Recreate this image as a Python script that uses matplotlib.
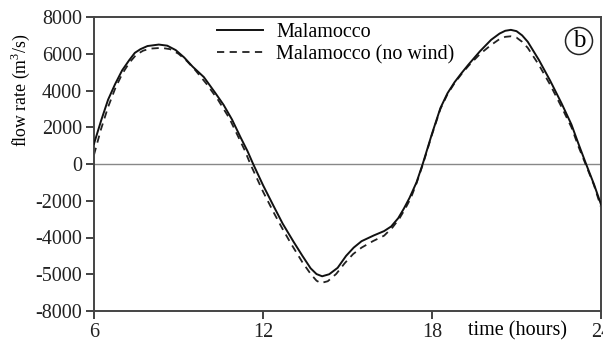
import matplotlib
matplotlib.use("Agg")
import matplotlib.pyplot as plt

plt.rcParams['font.family'] = ['Liberation Serif', 'DejaVu Serif']
plt.rcParams['mathtext.fontset'] = 'custom'
plt.rcParams['mathtext.rm'] = 'Liberation Serif'

t_solid = [6.0, 6.25, 6.5, 6.75, 7.0, 7.25, 7.45, 7.65, 7.9, 8.3, 8.6, 8.9, 9.2, 9.5, 9.9,
           10.3, 10.6, 10.9, 11.2, 11.45, 11.65, 12.0, 12.37, 12.7, 13.08, 13.4, 13.69, 13.9,
           14.1, 14.35, 14.65, 14.95, 15.22, 15.5, 15.93, 16.3, 16.55, 16.8, 17.0, 17.2, 17.45,
           17.67, 18.0, 18.3, 18.55, 18.8, 19.05, 19.3, 19.7, 20.1, 20.4, 20.6, 20.8, 21.0, 21.2,
           21.4, 21.8, 22.2, 22.6, 22.95, 23.2, 23.47, 23.75, 24.0]
v_solid = [1100, 2350, 3500, 4350, 5100, 5650, 6050, 6250, 6420, 6500, 6440, 6200, 5800, 5300, 4730,
           3880, 3220, 2420, 1460, 700, 0, -1150, -2270, -3250, -4220, -5000, -5675, -5990,
           -6110, -6000, -5650, -5000, -4550, -4200, -3890, -3650, -3400, -2950, -2430, -1850, -1000,
           0, 1650, 3050, 3850, 4450, 4950, 5420, 6130, 6760, 7100, 7250, 7300, 7230, 7000,
           6650, 5650, 4520, 3300, 2150, 1100, 0, -1100, -2200]

t_nowind = [6.0, 6.25, 6.5, 6.75, 7.0, 7.25, 7.5, 7.75, 8.0, 8.4, 8.7, 9.0, 9.3, 9.6, 10.0,
            10.4, 10.8, 11.1, 11.35, 11.55, 12.0, 12.4, 12.7, 13.0, 13.4, 13.7, 13.9, 14.05,
            14.3, 14.6, 14.9, 15.2, 15.5, 15.9, 16.3, 16.6, 16.85, 17.05, 17.25, 17.45, 17.68,
            18.0, 18.3, 18.55, 18.8, 19.05, 19.3, 19.7, 20.1, 20.4, 20.6, 20.8, 21.0, 21.2,
            21.4, 21.8, 22.2, 22.6, 22.95, 23.2, 23.45, 23.75, 24.0]
v_nowind = [500, 1900, 3100, 4100, 4900, 5500, 5950, 6170, 6280, 6320, 6250, 6000, 5600, 5100, 4350,
            3500, 2500, 1550, 750, 0, -1500, -2700, -3550, -4350, -5350, -6000, -6350, -6480,
            -6380, -5980, -5400, -4900, -4550, -4200, -3900, -3450, -2950, -2430, -1850, -1050, 0,
            1600, 3000, 3800, 4400, 4900, 5350, 5980, 6480, 6800, 6920, 6950, 6880, 6650,
            6320, 5380, 4300, 3100, 2000, 950, 0, -1150, -2350]

y_ticks = [8000, 6000, 4000, 2000, 0, -2000, -4000, -6000, -8000]
y_tick_labels = ['8000', '6000', '4000', '2000', '0', '-2000', '-4000', '-5000', '-8000']
x_ticks = [6, 12, 18, 24]
x_tick_labels = ['6', '12', '18', '24']

fig = plt.figure(figsize=(6.03, 3.43), dpi=100)
ax = fig.add_axes([94/603, 1-311/343, 507/603, 294/343])

ax.axhline(0, color='#888888', lw=1.0, zorder=1)
ax.plot(t_solid, v_solid, color='#111111', lw=1.4, label='Malamocco', zorder=3)
ax.plot(t_nowind, v_nowind, color='#222222', lw=1.3, ls=(0, (4, 3)), label='Malamocco (no wind)', zorder=2)

ax.set_xlim(6, 24)
ax.set_ylim(-8000, 8000)
ax.set_yticks(y_ticks)
ax.set_yticklabels(y_tick_labels)
ax.set_xticks(x_ticks)
ax.set_xticklabels(x_tick_labels)
ax.tick_params(direction='out', length=5.5, width=1.2, labelsize=14.5, colors='#222222', pad=3)

for s in ax.spines.values():
    s.set_linewidth(1.4)
    s.set_color('#444444')

ax.set_ylabel('flow rate (m$^3$/s)', fontsize=12.8)
ax.yaxis.set_label_coords((32-94)/507, (311-90)/294)
fig.text(517/603, 1-331/343, 'time (hours)', fontsize=14.5, ha='center', va='center')

fig.text(579/603, 1-41/343, 'b', fontsize=18, ha='center', va='center',
         bbox=dict(boxstyle='circle,pad=0.1', fc='white', ec='#222222', lw=1.1))

leg = ax.legend(loc='upper left', bbox_to_anchor=((217-94)/507, 1-(23-17)/294), frameon=False,
                fontsize=14.5, handlelength=2.3, handletextpad=0.65, labelspacing=0.15,
                borderpad=0, borderaxespad=0)

fig.savefig('out.png', dpi=100)
